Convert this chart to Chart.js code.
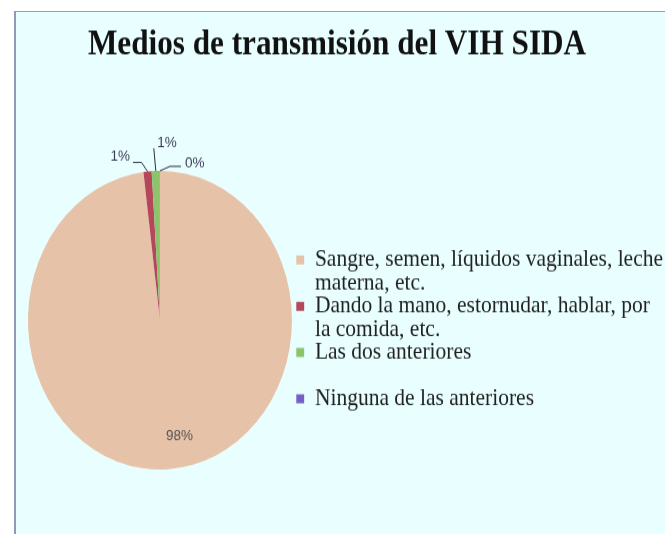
<!DOCTYPE html>
<html>
<head>
<meta charset="utf-8">
<script src="https://cdn.jsdelivr.net/npm/chart.js@4"></script>
<style>
    html, body { margin: 0; padding: 0; background: #fff; overflow: hidden; }
    body { width: 665px; height: 534px; position: relative; }
    #frame {
        position: absolute; left: 14px; top: 11px; right: -10px; bottom: -10px;
        background: #e9ffff;
        border-left: 2px solid #8e9bb4;
        border-top: 1px solid #9aa1ad;
    }
    /* the reference is stretched vertically, so the chart is too */
    #stretch {
        position: absolute; left: 0; top: 0;
        transform: scaleY(1.1314); transform-origin: 0 0;
    }
</style>
</head>
<body>
<div id="frame"></div>
<div id="stretch"><canvas id="medios" width="673" height="472"></canvas></div>
<script>
const categories = [
    ['Sangre, semen, líquidos vaginales, leche', 'materna, etc.'],
    ['Dando la mano, estornudar, hablar, por', 'la comida, etc.'],
    ['Las dos anteriores', ''],
    'Ninguna de las anteriores'
];
const percentages = [98, 1, 1, 0];
const sliceColors = ['#e6c2a8', '#b4475a', '#8dc36b', '#7461c4'];

// leader lines for the small slices: points relative to the slice edge, then text anchor
const leaders = [
    null,
    { path: [[-6, -8], [-14.6, -8]], text: [-17.6, -13.3], align: 'right' },
    { path: [[-2, -20]], text: [11.3, -25], align: 'center' },
    { path: [[10, -4], [21, -4]], text: [25, -7], align: 'left' }
];

const sliceLabels = {
    id: 'sliceLabels',
    afterDatasetsDraw(chart) {
        const ctx = chart.ctx;
        const values = chart.data.datasets[0].data;
        const total = values.reduce((a, b) => a + b, 0);
        ctx.save();
        ctx.font = '13.5px "Liberation Sans", Arial, sans-serif';
        ctx.textBaseline = 'middle';
        ctx.lineWidth = 1;
        chart.getDatasetMeta(0).data.forEach((arc, i) => {
            const { x, y, startAngle, endAngle, outerRadius } =
                arc.getProps(['x', 'y', 'startAngle', 'endAngle', 'outerRadius'], true);
            const mid = (startAngle + endAngle) / 2;
            const text = Math.round(values[i] / total * 100) + '%';
            const lead = leaders[i];
            if (!lead) {
                ctx.fillStyle = '#545454';
                ctx.textAlign = 'center';
                ctx.fillText(text, x + Math.cos(mid) * outerRadius * 0.78 + 13,
                    y + Math.sin(mid) * outerRadius * 0.78);
                return;
            }
            const ex = x + Math.cos(mid) * outerRadius;
            const ey = y + Math.sin(mid) * outerRadius;
            ctx.strokeStyle = '#2c2c3c';
            ctx.beginPath();
            ctx.moveTo(ex, ey);
            lead.path.forEach(p => ctx.lineTo(ex + p[0], ey + p[1]));
            ctx.stroke();
            ctx.fillStyle = '#3a3a58';
            ctx.textAlign = lead.align;
            ctx.fillText(text, ex + lead.text[0], ey + lead.text[1]);
        });
        ctx.restore();
    }
};

new Chart(document.getElementById('medios'), {
    type: 'pie',
    data: {
        labels: categories,
        datasets: [{
            data: percentages,
            backgroundColor: sliceColors,
            borderWidth: 0
        }]
    },
    options: {
        responsive: false,
        animation: false,
        layout: { padding: { left: 1, bottom: 57 } },
        plugins: {
            title: {
                display: true,
                text: 'Medios de transmisión del VIH SIDA',
                color: '#111',
                font: { family: '"Liberation Serif", "Times New Roman", serif', size: 31.2, weight: 'bold' },
                padding: { top: 21, bottom: 92.56 }
            },
            // empty left box: pushes the pie right without moving the title centre
            subtitle: {
                display: true,
                position: 'left',
                fullSize: false,
                text: '',
                font: { size: 10, lineHeight: 1.2 },
                padding: { top: 0, bottom: 10.75 }
            },
            legend: {
                position: 'right',
                fullSize: false,
                maxWidth: 420,
                title: { display: true, text: '', padding: 0, font: { size: 13.5 } },
                labels: {
                    boxWidth: 8,
                    boxHeight: 8,
                    padding: 0,
                    color: '#222',
                    font: { family: '"Liberation Serif", "Times New Roman", serif', size: 21.5, lineHeight: 0.95 }
                }
            },
            tooltip: { enabled: false }
        }
    },
    plugins: [sliceLabels]
});
</script>
</body>
</html>
